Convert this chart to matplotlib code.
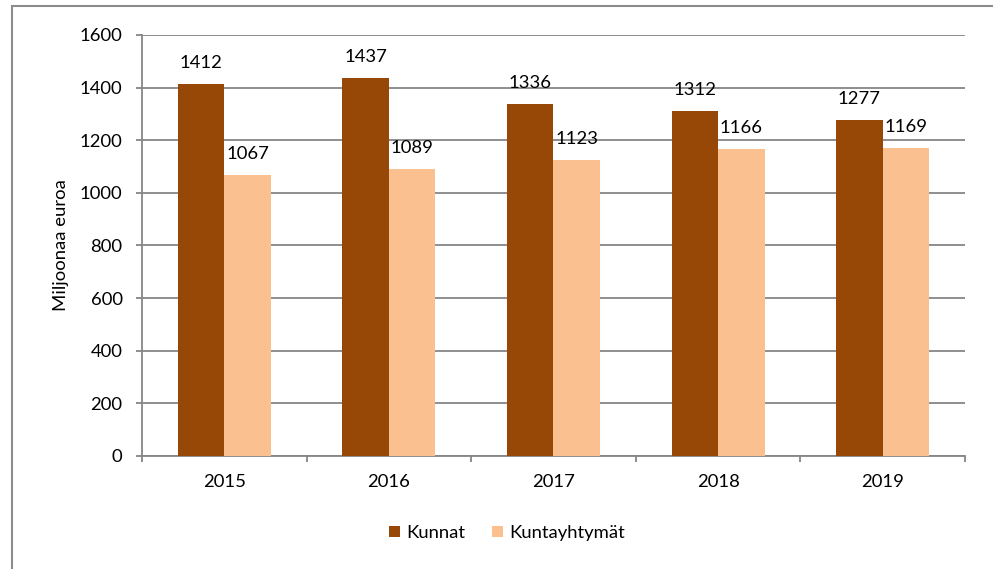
import numpy as np
import matplotlib
matplotlib.use("Agg")
import matplotlib.pyplot as plt
from matplotlib.patches import Rectangle

plt.rcParams['font.family'] = ['Lato', 'DejaVu Sans']

# data
years = ["2015", "2016", "2017", "2018", "2019"]
kunnat = [1412, 1437, 1336, 1312, 1277]
kuntayhtymat = [1067, 1089, 1123, 1166, 1169]
series_names = ["Kunnat", "Kuntayhtymät"]

col_k = "#974706"
col_ky = "#FAC090"
grid_col = "#868686"
fs = 13.3

fig = plt.figure(figsize=(9.93, 5.69), dpi=100)
ax = fig.add_axes([0.143, 0.1986, 0.8288, 0.74])

# outer chart frame (only left and top visible, rest is cut off)
fig.patches.append(Rectangle((12 / 993, -0.1), 1.2, 1 - 6 / 569 + 0.1,
                             transform=fig.transFigure, fill=False,
                             edgecolor="#8c8c8c", linewidth=1.5))

x = np.arange(len(years))
w = 0.283
b1 = ax.bar(x - w / 2, kunnat, w, color=col_k, label=series_names[0], zorder=3)
b2 = ax.bar(x + w / 2, kuntayhtymat, w, color=col_ky, label=series_names[1], zorder=3)

# value labels above the bars
for bars in (b1, b2):
    for r in bars:
        ax.annotate(f"{int(r.get_height())}", (r.get_x() + r.get_width() / 2, r.get_height()),
                    xytext=(0, 9.5), textcoords="offset points",
                    ha="center", va="bottom", fontsize=fs, color="black")

ax.set_xlim(-0.5, len(years) - 0.5)
ax.set_ylim(0, 1600)
ax.set_yticks(range(0, 1601, 200))
ax.yaxis.grid(True, color=grid_col, linewidth=1.3, zorder=0)
ax.set_axisbelow(True)

ax.set_xticks(x)
ax.set_xticklabels(years)
ax.set_xticks(np.arange(-0.5, len(years)), minor=True)
ax.tick_params(axis="x", which="major", length=0, pad=13, labelsize=fs)
ax.tick_params(axis="x", which="minor", length=4.5, width=1.3, color=grid_col)
ax.tick_params(axis="y", length=4.5, width=1.3, color=grid_col, pad=9.5, labelsize=fs)

for s in ("top", "right"):
    ax.spines[s].set_visible(False)
for s in ("left", "bottom"):
    ax.spines[s].set_color(grid_col)
    ax.spines[s].set_linewidth(1.3)

ax.set_ylabel("Miljoonaa euroa", fontsize=fs, labelpad=8)

fig.legend(handles=[b1, b2], labels=series_names, loc="center",
           bbox_to_anchor=(507 / 993, 1 - 533 / 569), ncol=2, frameon=False,
           fontsize=fs, handlelength=0.6, handleheight=0.6, handletextpad=0.35,
           columnspacing=1.4)

fig.savefig("out.png", dpi=100)
